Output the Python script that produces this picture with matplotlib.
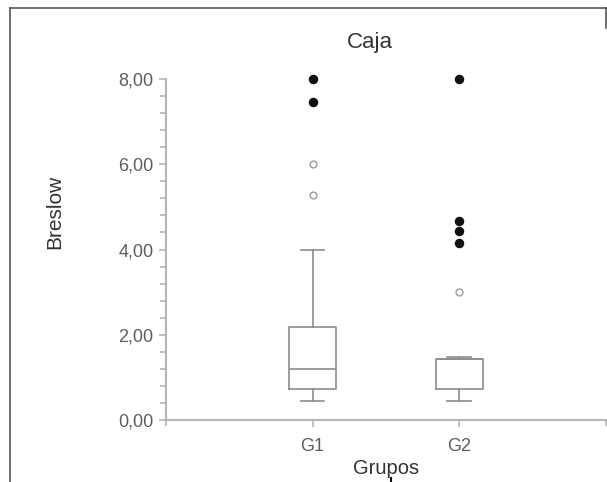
import matplotlib
matplotlib.use("Agg")
import matplotlib.pyplot as plt
from matplotlib.lines import Line2D

plt.rcParams["font.family"] = ["Liberation Sans", "DejaVu Sans"]

# --------------------------------------------------------
# DATA
# --------------------------------------------------------
groups = ["G1", "G2"]
q1 = [0.73, 0.73]
med = [1.19, 1.42]
q3 = [2.18, 1.42]
whis_lo = [0.45, 0.45]
whis_hi = [4.00, 1.49]

# mild outliers (open circles) and extreme ones (filled)
mild = [[6.00, 5.28], [3.00]]
extreme = [[8.00, 7.46], [8.00, 4.68, 4.44, 4.16]]

y_ticks = [0, 2, 4, 6, 8]
y_labels = ["0,00", "2,00", "4,00", "6,00", "8,00"]

# --------------------------------------------------------
# PLOT
# --------------------------------------------------------
fig = plt.figure(figsize=(6.07, 4.82), dpi=100)
ax = fig.add_axes([0.2735, 0.1286, 0.7245, 0.7075])

box_col = "#8c8c8c"
axis_col = "#b4b4bc"
text_col = "#5e5e5e"

stats = []
for i, g in enumerate(groups):
    stats.append(dict(label=g, q1=q1[i], med=med[i], q3=q3[i],
                      whislo=whis_lo[i], whishi=whis_hi[i], fliers=[]))

lp = dict(color=box_col, linewidth=1.2)
ax.bxp(stats, positions=[1, 2], widths=0.32, showfliers=False,
       boxprops=lp, whiskerprops=lp, capprops=lp, medianprops=lp,
       capwidths=0.16)

for i in range(len(groups)):
    ax.scatter([i + 1] * len(mild[i]), mild[i], s=24, facecolor="white",
               edgecolor="#9a9a9a", linewidth=1.0, zorder=3, clip_on=False)
    ax.scatter([i + 1] * len(extreme[i]), extreme[i], s=34, color="#111111",
               zorder=3, clip_on=False)

ax.set_xlim(0, 3)
ax.set_ylim(0, 8)
ax.set_xticks([1, 2])
ax.set_xticklabels(groups)
ax.set_xticks([0, 3], minor=True)
ax.set_yticks(y_ticks)
ax.set_yticklabels(y_labels)
ax.set_yticks([v * 0.4 for v in range(21)], minor=True)

for s in ["top", "right"]:
    ax.spines[s].set_visible(False)
for s in ["left", "bottom"]:
    ax.spines[s].set_color(axis_col)
    ax.spines[s].set_linewidth(1.5)

ax.tick_params(axis="both", which="both", color=axis_col, width=1.2,
               labelcolor=text_col, labelsize=13)
ax.tick_params(axis="both", which="major", length=5, pad=4)
ax.tick_params(axis="both", which="minor", length=4)
ax.tick_params(axis="x", which="major", pad=8)

ax.set_title("Caja", fontsize=16, color="#333333", pad=22, x=0.464)
ax.set_ylabel("Breslow", fontsize=15, color="#333333")
ax.yaxis.set_label_coords(-0.231, 0.61)
ax.set_xlabel("Grupos", fontsize=14.5, color="#333333", labelpad=3)

# outer frame of the screenshot
frame = dict(transform=fig.transFigure, color="#555555", linewidth=1.2)
fig.lines.append(Line2D([10 / 607, 10 / 607], [0, 1 - 8 / 482], **frame))
fig.lines.append(Line2D([10 / 607, 1], [1 - 8 / 482, 1 - 8 / 482], **frame))
fig.lines.append(Line2D([605.5 / 607, 605.5 / 607], [1 - 8 / 482, 1 - 28 / 482], **frame))
fig.lines.append(Line2D([391 / 607, 391 / 607], [0, 4 / 482],
                        transform=fig.transFigure, color="#111111", linewidth=1.5))

fig.savefig("out.png", dpi=100)
